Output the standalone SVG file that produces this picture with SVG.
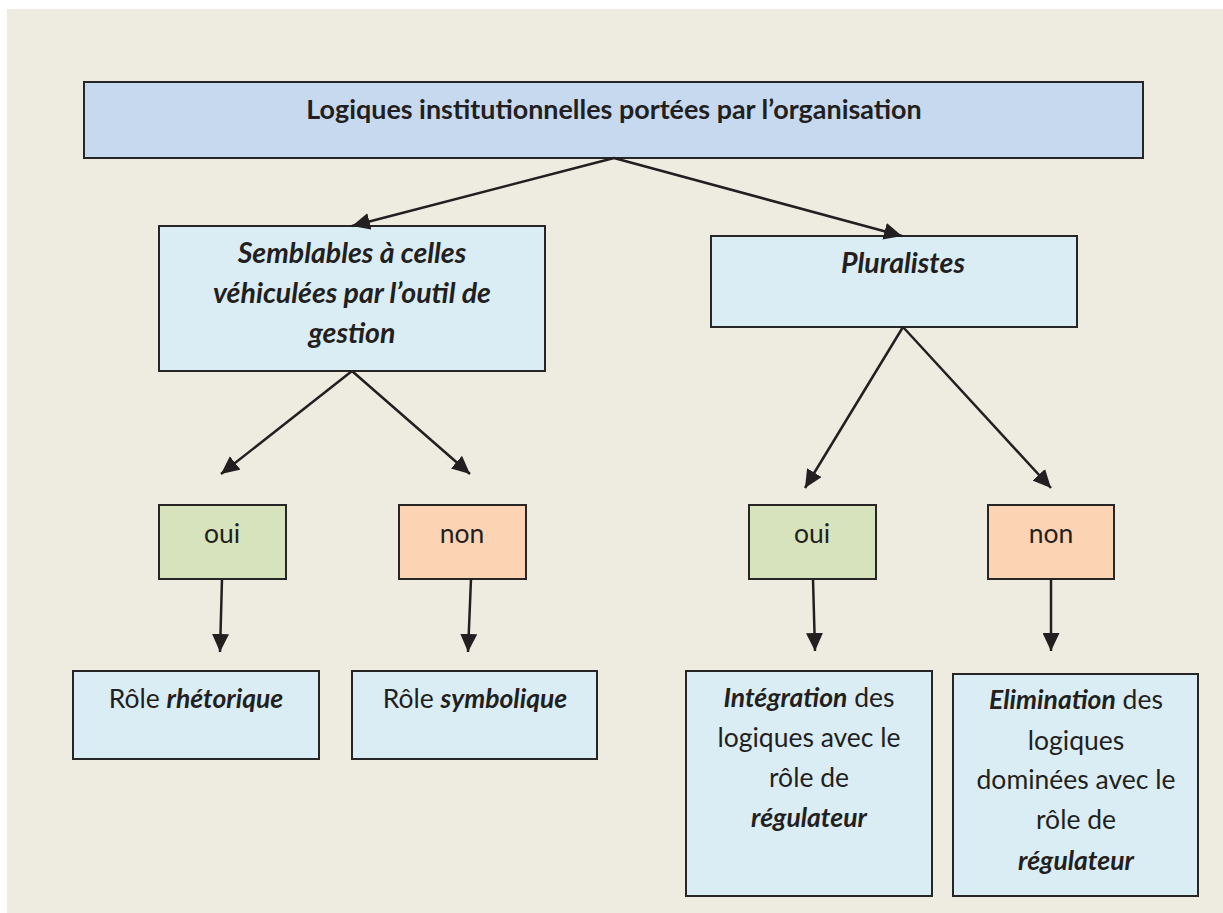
<svg xmlns="http://www.w3.org/2000/svg" width="1223" height="913" viewBox="0 0 1223 913">
<defs>
<marker id="ah" markerUnits="userSpaceOnUse" markerWidth="19" markerHeight="17" refX="18" refY="8.5" orient="auto">
<path d="M0,0 L18,8.5 L0,17 Z" fill="#231F20"/>
</marker>
<style>
.box{stroke:#262626;stroke-width:2}
.top{fill:#C6D9EF}
.mid{fill:#DAEDF4}
.oui{fill:#D6E3BC}
.non{fill:#FCD4B4}
text{font-family:Lato,"Open Sans","Liberation Sans",sans-serif;fill:#231F20;text-anchor:middle}
.t{font-size:26.5px}
.b{font-weight:bold;font-size:26.9px}
.bi{font-weight:bold;font-style:italic}
.big{font-size:28.5px}
.conn line{stroke:#231F20;stroke-width:2.5;marker-end:url(#ah)}
</style>
</defs>
<rect x="0" y="0" width="1223" height="913" fill="#FFFFFF"/>
<rect x="7" y="9" width="1216" height="904" fill="#EEEBE1"/>

<g id="n-top">
<rect class="box top" x="84" y="82" width="1059" height="76"/>
<text class="t b" x="614" y="119">Logiques institutionnelles portées par l’organisation</text>
</g>

<g id="n-semblables">
<rect class="box mid" x="159" y="226" width="386" height="145"/>
<text class="t bi big" x="352" y="263">Semblables à celles</text>
<text class="t bi big" x="352" y="303">véhiculées par l’outil de</text>
<text class="t bi big" x="352" y="343">gestion</text>
</g>

<g id="n-pluralistes">
<rect class="box mid" x="711" y="236" width="366" height="91"/>
<text class="t bi big" x="903" y="273">Pluralistes</text>
</g>

<g id="n-oui1">
<rect class="box oui" x="159" y="505" width="127" height="74"/>
<text class="t" x="222" y="543">oui</text>
</g>
<g id="n-non1">
<rect class="box non" x="399" y="505" width="127" height="74"/>
<text class="t" x="462" y="543">non</text>
</g>
<g id="n-oui2">
<rect class="box oui" x="749" y="505" width="127" height="74"/>
<text class="t" x="812" y="543">oui</text>
</g>
<g id="n-non2">
<rect class="box non" x="988" y="505" width="126" height="74"/>
<text class="t" x="1051" y="543">non</text>
</g>

<g id="n-rhetorique">
<rect class="box mid" x="73" y="671" width="246" height="88"/>
<text class="t" x="196" y="708">Rôle <tspan class="bi">rhétorique</tspan></text>
</g>
<g id="n-symbolique">
<rect class="box mid" x="352" y="671" width="245" height="88"/>
<text class="t" x="475" y="708">Rôle <tspan class="bi">symbolique</tspan></text>
</g>

<g id="n-integration">
<rect class="box mid" x="686" y="671" width="246" height="225"/>
<text class="t" x="809" y="707"><tspan class="bi">Intégration</tspan> des</text>
<text class="t" x="809" y="747">logiques avec le</text>
<text class="t" x="809" y="787">rôle de</text>
<text class="t bi" x="809" y="827">régulateur</text>
</g>

<g id="n-elimination">
<rect class="box mid" x="953" y="674" width="245" height="222"/>
<text class="t" x="1076" y="709"><tspan class="bi">Elimination</tspan> des</text>
<text class="t" x="1076" y="750">logiques</text>
<text class="t" x="1076" y="789">dominées avec le</text>
<text class="t" x="1076" y="829">rôle de</text>
<text class="t bi" x="1076" y="870">régulateur</text>
</g>

<g id="connectors" class="conn">
<line x1="614" y1="158" x2="352" y2="226"/>
<line x1="614" y1="158" x2="902" y2="236"/>
<line x1="352" y1="371" x2="221" y2="474"/>
<line x1="352" y1="371" x2="470" y2="474"/>
<line x1="903" y1="327" x2="805" y2="488"/>
<line x1="903" y1="327" x2="1051" y2="488"/>
<line x1="222" y1="579" x2="220" y2="652"/>
<line x1="471" y1="579" x2="468" y2="652"/>
<line x1="813" y1="579" x2="815" y2="651"/>
<line x1="1051" y1="579" x2="1051" y2="651"/>
</g>
</svg>
